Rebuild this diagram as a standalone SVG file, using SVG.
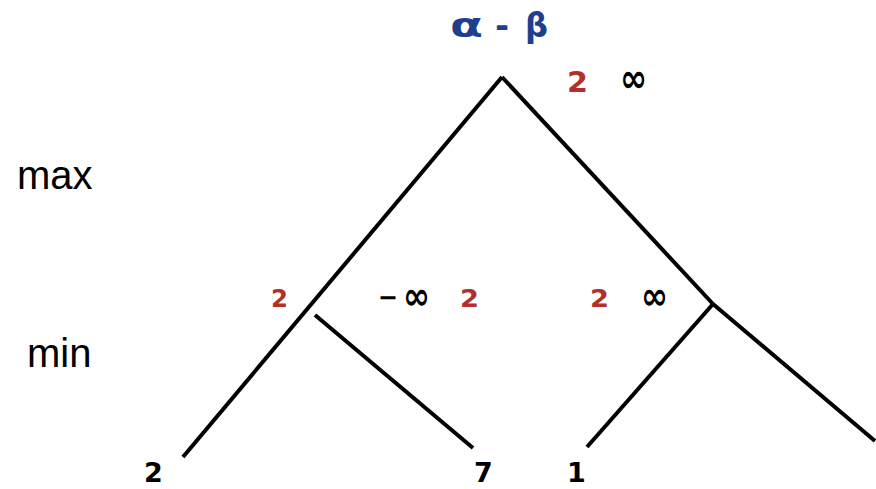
<svg xmlns="http://www.w3.org/2000/svg" width="876" height="489" viewBox="0 0 876 489">
<style>
.e{stroke:#000;stroke-width:4;stroke-linecap:butt;fill:none}
.lbl{font-family:"Liberation Sans",Arial,sans-serif;font-size:40px;fill:#000}
.r{font-family:"DejaVu Sans",Verdana,sans-serif;font-weight:bold;fill:#b3302a}
.k{font-family:"DejaVu Sans",Verdana,sans-serif;font-weight:bold;fill:#000}
.t{font-family:"DejaVu Sans",Verdana,sans-serif;font-size:34px;font-weight:bold;fill:#1e3f8f}
</style>
<rect width="876" height="489" fill="#fff"/>
<g id="title">
<text class="t" x="450" y="37" textLength="33" lengthAdjust="spacingAndGlyphs">α</text>
<text class="t" x="495" y="37">-</text>
<text class="t" x="525" y="37" textLength="23" lengthAdjust="spacingAndGlyphs">β</text>
</g>
<text class="lbl" x="17" y="189">max</text>
<text class="lbl" x="27" y="367">min</text>
<g id="connectors">
<line class="e" x1="502" y1="77" x2="183" y2="457"/>
<line class="e" x1="502" y1="77" x2="713" y2="304"/>
<line class="e" x1="315" y1="315" x2="473" y2="448"/>
<line class="e" x1="713" y1="304" x2="587" y2="447"/>
<line class="e" x1="713" y1="304" x2="875" y2="441"/>
</g>
<g id="root">
<text class="r" x="567" y="92" font-size="28" textLength="21" lengthAdjust="spacingAndGlyphs">2</text>
<text class="k" x="620" y="92" font-size="40" textLength="27" lengthAdjust="spacingAndGlyphs">∞</text>
</g>
<g id="minL">
<text class="r" x="271" y="307" font-size="24" textLength="17" lengthAdjust="spacingAndGlyphs">2</text>
<text class="k" x="378" y="306" font-size="26" textLength="20" lengthAdjust="spacingAndGlyphs">−</text>
<text class="k" x="403" y="309" font-size="38" textLength="27" lengthAdjust="spacingAndGlyphs">∞</text>
<text class="r" x="460" y="307" font-size="24" textLength="19" lengthAdjust="spacingAndGlyphs">2</text>
</g>
<g id="minR">
<text class="r" x="590" y="307" font-size="24" textLength="19" lengthAdjust="spacingAndGlyphs">2</text>
<text class="k" x="641" y="309" font-size="38" textLength="27" lengthAdjust="spacingAndGlyphs">∞</text>
</g>
<g id="leaf2"><text class="k" x="144" y="482" font-size="27">2</text></g>
<g id="leaf7"><text class="k" x="474" y="482" font-size="27">7</text></g>
<g id="leaf1"><text class="k" x="567" y="482" font-size="27">1</text></g>
</svg>
